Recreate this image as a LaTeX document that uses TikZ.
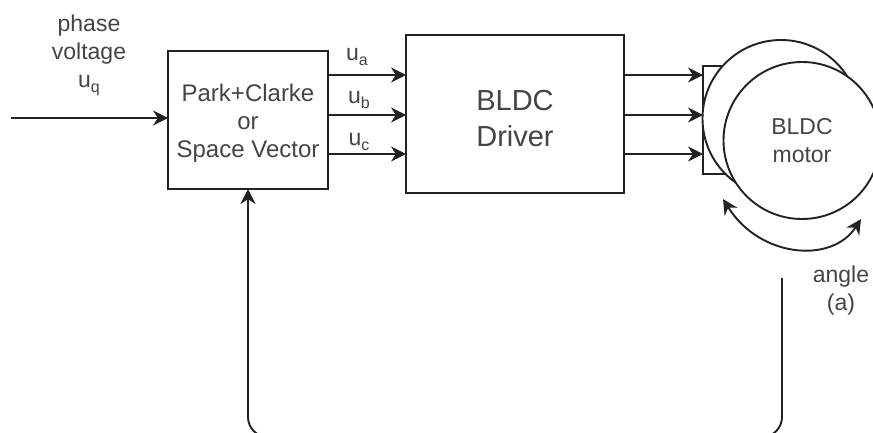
\documentclass[tikz,border=0pt]{standalone}
\usepackage{fontspec}
\setmainfont{Liberation Sans}
\usetikzlibrary{arrows.meta,positioning}
\definecolor{inkline}{HTML}{222222}
\definecolor{inktext}{HTML}{444444}
\newcommand{\subidx}[1]{\raisebox{-5pt}{\fontsize{16}{16}\selectfont #1}}

\begin{document}
\begin{tikzpicture}[
  x=1pt, y=-1pt,
  every node/.style={text=inktext, font=\fontsize{23}{28}\selectfont, align=center, inner sep=0pt, outer sep=0pt},
  block/.style={draw=inkline, line width=1.9pt, fill=white},
  rotor/.style={draw=inkline, line width=1.9pt, fill=white, circle, minimum size=157pt},
  arrow/.style={-{Stealth[length=15pt,width=15pt]}, draw=inkline, line width=1.9pt},
  twoway/.style={{Stealth[length=15pt,width=15pt]}-{Stealth[length=15pt,width=15pt]}, draw=inkline, line width=1.9pt}
]
\useasboundingbox (0,0) rectangle (873,432);

\node[block, minimum width=160pt, minimum height=138pt, font=\fontsize{24}{28}\selectfont] (park) at (248,120) {\rule{0pt}{23pt}Park+Clarke\\or\\Space Vector};
\node[block, minimum width=218pt, minimum height=158pt, right=78pt of park, yshift=6pt, font=\fontsize{29}{36}\selectfont] (driver) {\rule{0pt}{29pt}BLDC\\Driver};
\node[block, minimum width=24pt, minimum height=108pt, anchor=west] (stator) at (703,120) {};
\node[rotor] (rotorback) at (781,118.5) {};
\node[rotor] (rotor) at (802,140.5) {BLDC\\motor};

\coordinate (input) at (11,118);
\coordinate (outa) at (328,75);
\coordinate (outb) at (328,115);
\coordinate (outc) at (328,154);
\coordinate (phasea) at (624,75);
\coordinate (phaseb) at (624,115);
\coordinate (phasec) at (624,154);
\coordinate (sense) at (782,278);
\coordinate (fbright) at (782,437);
\coordinate (fbleft) at (248,437);
\coordinate (turnl) at (723,199);
\coordinate (turnr) at (861,219);

\node (phase) at (89,55) {phase\\voltage\\u\subidx{q}};
\node (ua) at (357,57) {u\subidx{a}};
\node (ub) at (359,100) {u\subidx{b}};
\node (uc) at (359,142) {u\subidx{c}};
\node (angle) at (841,291) {angle\\(a)};

\draw[arrow] (input) -- (input -| park.west);
\draw[arrow] (outa) -- (outa -| driver.west);
\draw[arrow] (outb) -- (outb -| driver.west);
\draw[arrow] (outc) -- (outc -| driver.west);
\draw[arrow] (phasea) -- (phasea -| stator.west);
\draw[arrow] (phaseb) -- (phaseb -| stator.west);
\draw[arrow] (phasec) -- (phasec -| stator.west);
\draw[arrow, rounded corners=20pt] (sense) -- (fbright) -- (fbleft) -- (park.south);
\draw[twoway] (turnl) .. controls (760,258) and (832,264) .. (turnr);
\end{tikzpicture}
\end{document}
